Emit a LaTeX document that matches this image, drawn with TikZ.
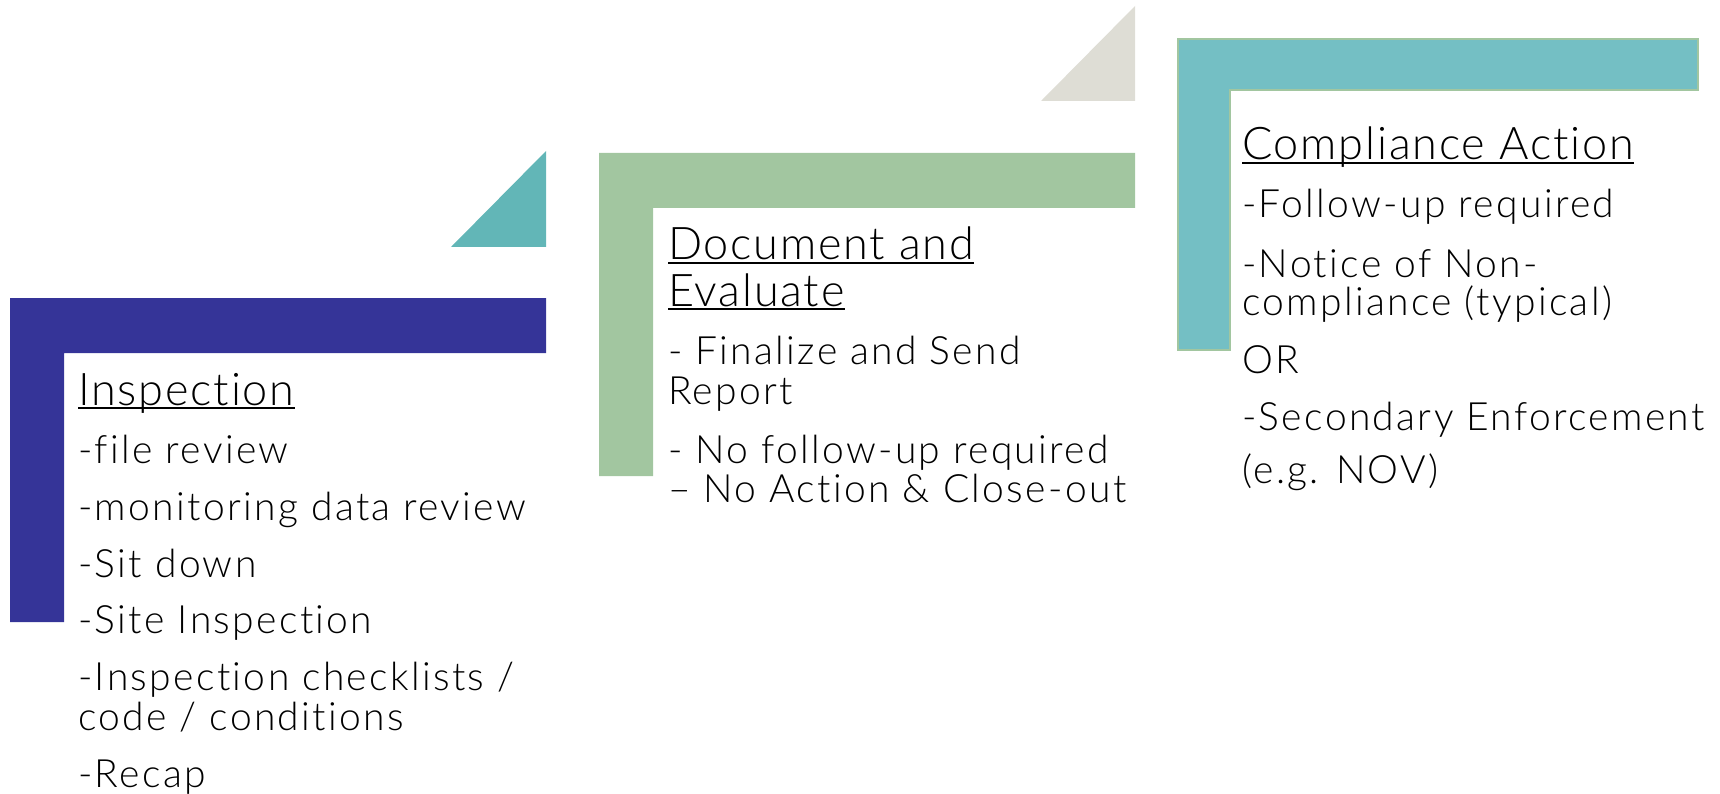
\documentclass[tikz,border=0pt]{standalone}
\usepackage{fontspec}
\setmainfont{Lato Light}[LetterSpace=6,Ligatures=NoCommon]
\newfontfamily\headfont{Lato Light}[LetterSpace=4,Ligatures=NoCommon]
\definecolor{stepblue}{HTML}{353498}
\definecolor{stepteal}{HTML}{62B6B7}
\definecolor{stepgreen}{HTML}{A2C6A0}
\definecolor{stepgray}{HTML}{DEDDD5}
\definecolor{steplight}{HTML}{74BFC4}
\tikzset{
  item/.style={anchor=base west,inner sep=0pt,font=\fontsize{39}{39}\selectfont},
  head/.style={item,font=\headfont\fontsize{45}{45}\selectfont},
  uline/.style={line width=2pt}
}

\begin{document}
\begin{tikzpicture}[x=1pt,y=-1pt]
  \useasboundingbox (0,0) rectangle (1720,794);

  % corner shapes
  \fill[stepblue] (10,298) -- (546,298) -- (546,353) -- (64,353) -- (64,622) -- (10,622) -- cycle;
  \fill[stepteal] (451,247) -- (546,247) -- (546,151) -- cycle;
  \fill[stepgreen] (599,153) -- (1135,153) -- (1135,208) -- (653,208) -- (653,476) -- (599,476) -- cycle;
  \fill[stepgray] (1041,101) -- (1135,101) -- (1135,6) -- cycle;
  \filldraw[fill=steplight,draw=stepgreen,line width=1.5pt] (1178,39) -- (1698,39) -- (1698,90) -- (1230,90) -- (1230,350) -- (1178,350) -- cycle;

  % Inspection
  \node[head] (ins0) at (78,405) {Inspection};
  \node[item] (ins1) at (78,463) {-file review};
  \node[item] (ins2) at (78,520) {-monitoring data review};
  \node[item] (ins3) at (78,577) {-Sit down};
  \node[item] (ins4) at (78,633) {-Site Inspection};
  \node[item] (ins5) at (78,690) {-Inspection checklists /};
  \node[item] (ins6) at (78,730) {code / conditions};
  \node[item] (ins7) at (78,787) {-Recap};

  % Document and Evaluate
  \node[head] (doc0) at (668,259) {Document and};
  \node[head] (doc1) at (668,306) {Evaluate};
  \node[item] (doc2) at (668,364) {- Finalize and Send};
  \node[item] (doc3) at (668,404) {Report};
  \node[item] (doc4) at (668,463) {- No follow-up required};
  \node[item] (doc5) at (668,502) {– No Action \& Close-out};

  % Compliance Action
  \node[head] (com0) at (1242,160) {Compliance Action};
  \node[item] (com1) at (1242,218) {-Follow-up required};
  \node[item] (com2) at (1242,277) {-Notice of Non-};
  \node[item] (com3) at (1242,315) {compliance (typical)};
  \node[item] (com4) at (1242,373) {OR};
  \node[item] (com5) at (1242,430) {-Secondary Enforcement};
  \node[item] (com6) at (1242,483) {(e.g. NOV)};

  % underlines
  \draw[uline] ([yshift=-3pt]ins0.base west) -- ([yshift=-3pt]ins0.base east);
  \draw[uline] ([yshift=-4pt]doc0.base west) -- ([yshift=-4pt]doc0.base east);
  \draw[uline] ([yshift=-3pt]doc1.base west) -- ([yshift=-3pt]doc1.base east);
  \draw[uline] ([yshift=-3pt]com0.base west) -- ([yshift=-3pt]com0.base east);
\end{tikzpicture}
\end{document}
